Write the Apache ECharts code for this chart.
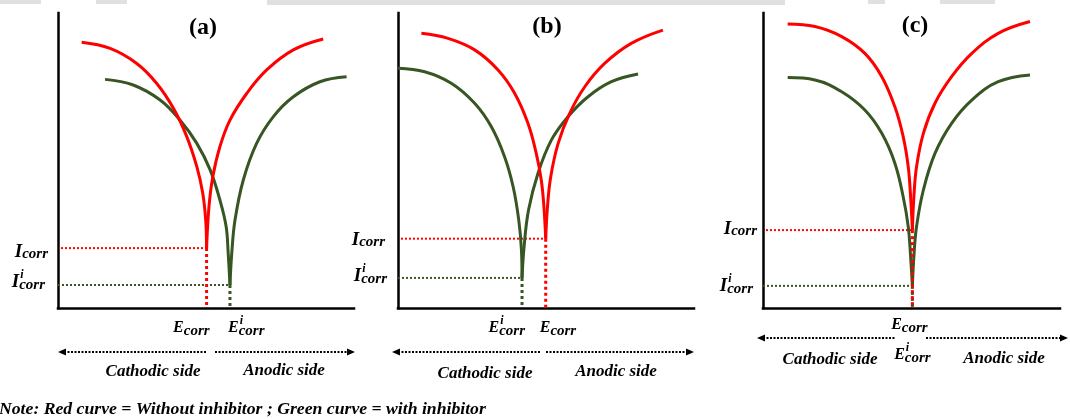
<!DOCTYPE html>
<html>
<head>
<meta charset="utf-8">
<script src="https://cdn.jsdelivr.net/npm/echarts@6/dist/echarts.min.js"></script>
<style>
  html, body { margin: 0; padding: 0; background: #fff; }
  #chart { width: 1070px; height: 419px; }
</style>
</head>
<body>
<div id="chart"></div>
<script>
// ---- Data (potential E and current I, both on a 0–100 schematic scale) ----
const panelTitles = ['(a)', '(b)', '(c)'];

// corrosion potentials / currents: without inhibitor (red) and with inhibitor (green)
const eCorr    = [50.2, 49.9, 50.3];
const iCorr    = [20.3, 23.5, 26.4];
const eCorrInh = [58.1, 41.9, 50.3];
const iCorrInh = [7.8, 10.2, 7.5];

// polarization branches, [E, I] pairs (the corrosion point is added at the tip)
const redCathodicA   = [[8.0,90.1],[17.6,88.0],[26.6,82.9],[33.3,76.2],[39.0,67.7],[43.5,58.1],[46.9,47.9],[48.9,38.9],[49.9,29.8]];
const redAnodicA     = [[51.0,34.3],[52.3,44.5],[54.7,54.7],[58.1,63.7],[63.8,72.8],[70.5,80.7],[79.5,87.5],[89.6,91.2]];
const greenCathodicA = [[15.9,77.5],[25.4,75.6],[34.5,70.5],[41.2,63.7],[46.9,55.8],[51.4,46.8],[54.7,36.6],[56.8,27.6],[57.5,18.5]];
const greenAnodicA   = [[58.7,18.5],[59.8,29.8],[62.6,43.4],[67.1,55.8],[72.7,64.8],[79.5,71.6],[88.5,76.7],[97.5,78.4]];

const redCathodicB   = [[7.9,93.1],[16.9,91.4],[25.9,87.5],[33.8,80.7],[39.4,72.8],[43.9,62.6],[46.7,52.4],[48.4,43.4],[49.3,34.3]];
const redAnodicB     = [[50.5,34.3],[51.6,44.5],[54.1,55.8],[58.0,66.0],[63.1,75.0],[69.8,82.9],[78.8,89.7],[89.5,94.2]];
const greenCathodicB = [[0,81.3],[9.0,80.1],[18.0,76.2],[25.9,69.4],[31.5,61.5],[36.0,51.3],[38.9,41.1],[40.8,29.8],[41.7,19.7]];
const greenAnodicB   = [[42.6,20.8],[44.1,33.2],[47.3,45.7],[51.8,56.9],[57.4,64.8],[64.2,71.6],[72.1,76.7],[81.1,79.3]];

const redCathodicC   = [[8.3,96.3],[17.5,95.4],[26.5,92.0],[34.3,86.3],[40.0,78.4],[44.4,68.2],[47.2,58.1],[48.9,47.9],[49.7,37.7]];
const redAnodicC     = [[50.8,37.7],[51.7,47.9],[54.0,59.2],[57.9,69.4],[63.5,78.4],[70.3,86.3],[79.2,93.1],[89.9,97.1]];
const greenCathodicC = [[8.3,78.1],[17.5,77.3],[26.5,73.3],[34.3,67.1],[40.0,59.2],[44.4,49.1],[47.2,37.7],[48.9,27.6],[49.7,17.4]];
const greenAnodicC   = [[50.8,17.4],[51.7,27.6],[54.0,40.0],[57.9,52.4],[63.5,62.6],[70.3,70.5],[79.2,76.7],[89.9,79.0]];

const redBranches   = [[redCathodicA, redAnodicA], [redCathodicB, redAnodicB], [redCathodicC, redAnodicC]];
const greenBranches = [[greenCathodicA, greenAnodicA], [greenCathodicB, greenAnodicB], [greenCathodicC, greenAnodicC]];

const sideLabels = ['Cathodic side', 'Anodic side'];
const noteText = 'Note: Red curve = Without inhibitor ; Green curve = with inhibitor';

// ---- Layout and styles ----
const RED = '#ff0000';
const GREEN = '#375623';
const SERIF = '"Liberation Serif", "Times New Roman", serif';

const layout = [
  { grid: { left: 58,  top: 13, width: 296, height: 295 }, title: [203, 28],
    arrowY: 352, arrow: [58, 207, 215, 355], side: [[153, 377], [284, 376]],
    iRed: { gap: 10, dy: 10 }, iGreen: { gap: 13, dy: 4 },
    eRed: { align: 'right', dx: 3, base: 333 }, eGreen: { align: 'left', dx: -2, base: 333 } },
  { grid: { left: 398, top: 13, width: 296, height: 295 }, title: [547, 27],
    arrowY: 352, arrow: [392, 540, 546, 694], side: [[485, 379], [616, 377]],
    iRed: { gap: 13, dy: 8 }, iGreen: { gap: 11, dy: 5 },
    eRed: { align: 'left', dx: -6, base: 333 }, eGreen: { align: 'right', dx: 3, base: 333 } },
  { grid: { left: 763, top: 13, width: 297, height: 295 }, title: [915, 26],
    arrowY: 338, arrow: [757, 895, 926, 1068], side: [[830, 365], [1004, 364]],
    iRed: { gap: 6, dy: 5 }, iGreen: { gap: 10, dy: 7 },
    eRed: { align: 'center', dx: -3, base: 330 }, eGreen: { align: 'center', dx: 0, base: 360 } }
];

const chart = echarts.init(document.getElementById('chart'));

const axisLine = { show: true, onZero: false, lineStyle: { color: '#000', width: 2.5, cap: 'square' } };
const bareAxis = (k) => ({
  type: 'value', gridIndex: k, min: 0, max: 100,
  axisLine, axisTick: { show: false }, axisLabel: { show: false }, splitLine: { show: false }
});

const series = [];
function addLine(k, data, color, width, dotted, z) {
  series.push({
    type: 'line', xAxisIndex: k, yAxisIndex: k, data,
    symbol: 'none', showSymbol: false, silent: true, clip: false,
    smooth: dotted ? false : 0.4,
    lineStyle: { color, width, type: dotted ? 'dotted' : 'solid', cap: 'butt' },
    z
  });
}

layout.forEach((l, k) => {
  // guide lines to the corrosion point
  addLine(k, [[1, iCorr[k]], [eCorr[k], iCorr[k]]], RED, 2, true, 2);
  addLine(k, [[0, iCorrInh[k]], [eCorrInh[k], iCorrInh[k]]], GREEN, 2, true, 2);
  // polarization branches
  const gc = [eCorrInh[k], iCorrInh[k]];
  const rc = [eCorr[k], iCorr[k]];
  addLine(k, greenBranches[k][0].concat([gc]), GREEN, 3, false, 3);
  addLine(k, [gc].concat(greenBranches[k][1]), GREEN, 3, false, 3);
  addLine(k, redBranches[k][0].concat([rc]), RED, 3, false, 4);
  addLine(k, [rc].concat(redBranches[k][1]), RED, 3, false, 4);
  // drop lines to the potential axis
  addLine(k, [[eCorrInh[k], iCorrInh[k]], [eCorrInh[k], 0]], GREEN, 3, true, 5);
  addLine(k, [[eCorr[k], iCorr[k]], [eCorr[k], 0]], RED, 3, true, 5);
});

chart.setOption({
  animation: false,
  backgroundColor: '#fff',
  grid: layout.map(l => Object.assign({ containLabel: false }, l.grid)),
  xAxis: layout.map((l, k) => bareAxis(k)),
  yAxis: layout.map((l, k) => bareAxis(k)),
  series
});

// ---- Text and annotation helpers ----
const measureCtx = document.createElement('canvas').getContext('2d');
function textWidth(str, size, italic) {
  measureCtx.font = (italic ? 'italic ' : '') + 'bold ' + size + 'px ' + SERIF;
  return measureCtx.measureText(str).width;
}
function textEl(x, baseline, str, size, align, italic, z) {
  return {
    type: 'text', x, y: baseline - 0.34 * size, z: z || 10, silent: true,
    style: {
      text: str, fill: '#000', fontSize: size, fontFamily: SERIF, fontWeight: 'bold',
      fontStyle: italic ? 'italic' : 'normal',
      align: align, textAlign: align, verticalAlign: 'middle', textVerticalAlign: 'middle'
    }
  };
}
// symbol like I_corr or E^i_corr
function symbolEls(base, baseSize, sup, anchorX, baseline, align, subDrop, supRise) {
  const subSize = 15, supSize = 12;
  const wb = textWidth(base, baseSize, true);
  const ws = textWidth('corr', subSize, true);
  const total = wb + ws;
  const left = align === 'right' ? anchorX - total : align === 'center' ? anchorX - total / 2 : anchorX;
  const els = [
    textEl(left, baseline, base, baseSize, 'left', true),
    textEl(left + wb, baseline + subDrop, 'corr', subSize, 'left', true)
  ];
  if (sup) els.push(textEl(left + wb + 1, baseline - supRise, sup, supSize, 'left', true));
  return els;
}
function arrowHead(tipX, y, dir) {
  const len = 8, half = 3.5;
  return {
    type: 'polygon', silent: true, z: 10,
    shape: { points: [[tipX, y], [tipX - dir * len, y - half], [tipX - dir * len, y + half]] },
    style: { fill: '#000' }
  };
}
function dottedSeg(x1, x2, y) {
  return {
    type: 'line', silent: true, z: 10,
    shape: { x1, y1: y, x2, y2: y },
    style: { stroke: '#000', lineWidth: 1.8, lineDash: [2, 1.5] }
  };
}

const graphic = [];

// faint strip along the top edge
[[0, 41, 4], [96, 31, 4], [267, 518, 5], [868, 17, 4], [940, 55, 4]].forEach(([x, w, h]) => {
  graphic.push({ type: 'rect', silent: true, shape: { x, y: 0, width: w, height: h }, style: { fill: '#e0e0e0' } });
});

layout.forEach((l, k) => {
  // panel letter
  graphic.push(textEl(l.title[0], l.title[1] + 0.34 * 24, panelTitles[k], 24, 'center', false));

  // current labels on the vertical axis
  const pR = chart.convertToPixel({ gridIndex: k }, [eCorr[k], iCorr[k]]);
  const pG = chart.convertToPixel({ gridIndex: k }, [eCorrInh[k], iCorrInh[k]]);
  const axisX = l.grid.left;
  symbolEls('I', 19, null, axisX - l.iRed.gap, pR[1] + l.iRed.dy, 'right', 1, 0).forEach(e => graphic.push(e));
  symbolEls('I', 19, 'i', axisX - l.iGreen.gap, pG[1] + l.iGreen.dy, 'right', 1, 10).forEach(e => graphic.push(e));

  // potential labels under the horizontal axis
  symbolEls('E', 16, null, pR[0] + l.eRed.dx, l.eRed.base, l.eRed.align, 3, 0).forEach(e => graphic.push(e));
  symbolEls('E', 16, 'i', pG[0] + l.eGreen.dx, l.eGreen.base, l.eGreen.align, 3, 8).forEach(e => graphic.push(e));

  // cathodic / anodic direction arrows
  const [a0, a1, a2, a3] = l.arrow;
  graphic.push(dottedSeg(a0 + 6, a1, l.arrowY));
  graphic.push(arrowHead(a0, l.arrowY, -1));
  graphic.push(dottedSeg(a2, a3 - 6, l.arrowY));
  graphic.push(arrowHead(a3, l.arrowY, 1));
  graphic.push(textEl(l.side[0][0], l.side[0][1], sideLabels[0], 17, 'center', true));
  graphic.push(textEl(l.side[1][0], l.side[1][1], sideLabels[1], 17, 'center', true));
});

graphic.push(textEl(-1, 415, noteText, 17.7, 'left', true));

chart.setOption({ graphic });
</script>
</body>
</html>
